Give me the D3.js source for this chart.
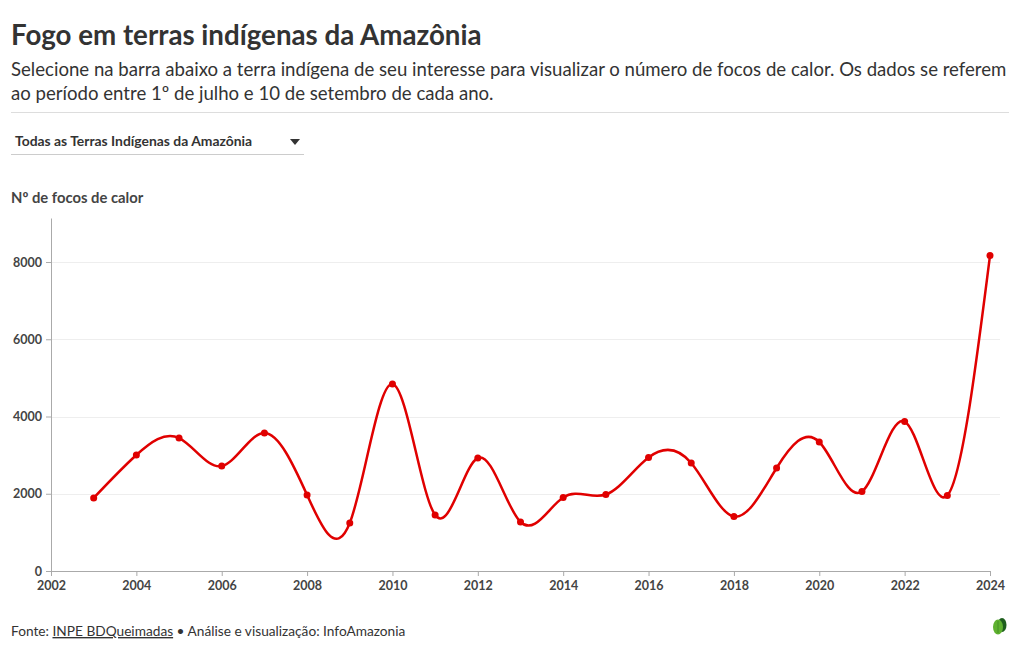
<!DOCTYPE html>
<html><head><meta charset="utf-8">
<script src="https://cdn.jsdelivr.net/npm/d3@7"></script>
<style>
body{margin:0;background:#fff;font-family:"Source Sans Pro","Lato","Noto Sans",sans-serif;}
</style></head><body>
<svg id="c" width="1020" height="650"></svg>
<script>
const years = [2003,2004,2005,2006,2007,2008,2009,2010,2011,2012,2013,2014,2015,2016,2017,2018,2019,2020,2021,2022,2023,2024];
const focos = [1890,3003,3443,2718,3573,1968,1243,4841,1450,2926,1269,1903,1980,2939,2796,1411,2667,3340,2058,3870,1955,8168];
const xTicks = [2002,2004,2006,2008,2010,2012,2014,2016,2018,2020,2022,2024];
const yTicks = [0,2000,4000,6000,8000];

const svg = d3.select("#c");
const font = "Lato, 'Noto Sans', sans-serif";
svg.append("text").attr("x",11).attr("y",45).attr("font-family",font).attr("font-weight",700)
  .attr("font-size",27.7).attr("fill","#333").text("Fogo em terras indígenas da Amazônia");
svg.append("text").attr("x",11).attr("y",76).attr("font-family",font).attr("font-size",18.6).attr("fill","#333")
  .text("Selecione na barra abaixo a terra indígena de seu interesse para visualizar o número de focos de calor. Os dados se referem");
svg.append("text").attr("x",11).attr("y",100).attr("font-family",font).attr("font-size",18.6).attr("fill","#333")
  .text("ao período entre 1º de julho e 10 de setembro de cada ano.");
svg.append("line").attr("x1",11).attr("x2",1009).attr("y1",112.5).attr("y2",112.5).attr("stroke","#ddd");

// dropdown
svg.append("text").attr("x",15).attr("y",146).attr("font-family",font).attr("font-weight",700)
  .attr("font-size",13.9).attr("fill","#333").text("Todas as Terras Indígenas da Amazônia");
svg.append("path").attr("d","M290,139 L300,139 L295,145 Z").attr("fill","#333");
svg.append("line").attr("x1",11).attr("x2",304).attr("y1",154.5).attr("y2",154.5).attr("stroke","#ccc");

svg.append("text").attr("x",11).attr("y",203).attr("font-family",font).attr("font-weight",700)
  .attr("font-size",14.8).attr("fill","#444").text("Nº de focos de calor");

const x = d3.scaleLinear().domain([2002,2024]).range([51,990]);
const y = d3.scaleLinear().domain([0,9140]).range([571,218]);

// grid
svg.append("g").selectAll("line").data(yTicks.slice(1)).join("line")
  .attr("x1",51).attr("x2",1000).attr("y1",d=>Math.round(y(d))+0.5).attr("y2",d=>Math.round(y(d))+0.5)
  .attr("stroke","#eee");

const gy = svg.append("g").attr("transform","translate(51,0)")
  .call(d3.axisLeft(y).tickValues(yTicks).tickSize(5).tickSizeOuter(0).tickFormat(d3.format("d")));
gy.select(".domain").attr("stroke","#aaa");
gy.selectAll(".tick line").attr("stroke","#aaa");
gy.selectAll("text").attr("font-family",font).attr("font-weight",700).attr("font-size",12.5).attr("fill","#444").attr("x",-9);

const gx = svg.append("g").attr("transform","translate(0,571)")
  .call(d3.axisBottom(x).tickValues(xTicks).tickSize(5).tickSizeOuter(0).tickFormat(d3.format("d")));
gx.select(".domain").attr("stroke","#aaa");
gx.selectAll(".tick line").attr("stroke","#aaa");
gx.selectAll("text").attr("font-family",font).attr("font-weight",700).attr("font-size",12.5).attr("fill","#444").attr("y",10);

const data = years.map((yr,i)=>({yr,v:focos[i]}));
const line = d3.line().x(d=>x(d.yr)).y(d=>y(d.v)).curve(d3.curveNatural);
svg.append("path").datum(data).attr("d",line).attr("fill","none").attr("stroke","#e00000").attr("stroke-width",2.5);
svg.append("g").selectAll("circle").data(data).join("circle")
  .attr("cx",d=>x(d.yr)).attr("cy",d=>y(d.v)).attr("r",3.5).attr("fill","#e00000");

// footer
const ft = svg.append("text").attr("x",11).attr("y",636).attr("font-family",font).attr("font-size",13.7).attr("fill","#333");
ft.append("tspan").text("Fonte: ");
ft.append("tspan").attr("text-decoration","underline").text("INPE BDQueimadas");
ft.append("tspan").text(" • Análise e visualização: InfoAmazonia");

// leaf logo
svg.append("ellipse").attr("cx",1002).attr("cy",625).attr("rx",4.5).attr("ry",7).attr("fill","#1e5e1e");
svg.append("ellipse").attr("cx",998).attr("cy",627).attr("rx",5).attr("ry",7.5).attr("fill","#5fb130");
svg.append("line").attr("x1",998).attr("x2",998).attr("y1",621).attr("y2",633).attr("stroke","#3d8a22").attr("stroke-width",0.8);
</script></body></html>
